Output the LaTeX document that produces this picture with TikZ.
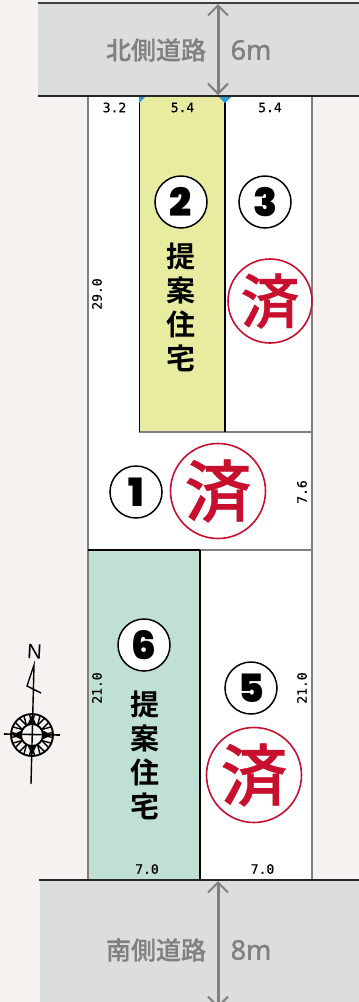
\documentclass[tikz,border=0pt]{standalone}
\usepackage{fontspec}
\setmainfont{Noto Sans CJK JP}[BoldFont={Noto Sans CJK JP Bold}]
\newfontfamily\medfont{Noto Sans CJK JP Medium}
\newfontfamily\roadfont{Noto Sans CJK JP Medium}[FakeBold=0.6]
\newfontfamily\stampfont{Noto Sans CJK JP Medium}[FakeBold=0.5]
\newfontfamily\dimfont{DejaVu Sans Mono}[FakeBold=0.4]
\newfontfamily\numfont{Poppins Black}
\newfontfamily\latfont{Noto Sans}[FakeBold=1.4]
\newfontfamily\latplain{Noto Sans}
\definecolor{pagebg}{HTML}{F5F2EF}
\definecolor{roadbg}{HTML}{DCDEDD}
\definecolor{roadtx}{HTML}{808080}
\definecolor{lotyellow}{HTML}{E8ECA0}
\definecolor{lotgreen}{HTML}{BFE0D2}
\definecolor{stamp}{HTML}{C8102E}
\definecolor{lotgray}{HTML}{808080}
\definecolor{tick}{HTML}{2E9BD6}
\usetikzlibrary{arrows.meta}
\tikzset{
 x=1pt,y=-1pt,
 dimlabel/.style={font=\dimfont\fontsize{13}{14}\selectfont,inner sep=0pt,text=black},
 roadlabel/.style={font=\roadfont\fontsize{25}{26}\selectfont,text=roadtx,inner sep=0pt},
 roadsize/.style={font=\latfont\fontsize{27}{28}\selectfont,text=roadtx,inner sep=0pt},
 lotnum/.style={circle,draw=black,line width=1.5pt,fill=white,minimum size=52pt,inner sep=0pt,font=\numfont\fontsize{39}{39}\selectfont},
 stampmark/.style={circle,draw=stamp,line width=1.6pt,fill=white,minimum size=95pt,inner sep=0pt,text=stamp,font=\stampfont\fontsize{67}{67}\selectfont},
 stampsmall/.style={stampmark,minimum size=84pt,font=\stampfont\fontsize{59}{59}\selectfont},
 proposal/.style={font=\bfseries\fontsize{29}{34}\selectfont,align=center,inner sep=0pt},
 roadarrow/.style={draw=roadtx,line width=3pt,{Straight Barb[length=10pt,width=20pt,line width=2pt]}-{Straight Barb[length=10pt,width=20pt,line width=2pt]}},
 lotedge/.style={draw=lotgray,line width=1.2pt},
 lotblack/.style={draw=black,line width=1.2pt},
 roadedge/.style={draw=black!75,line width=1.2pt},
}
\begin{document}
\begin{tikzpicture}
\useasboundingbox (0,0) rectangle (359,1002);
\fill[pagebg] (0,0) rectangle (359,1002);
% lots
\fill[white] (88,96) rectangle (312,880);
\fill[lotyellow] (139,96) rectangle (225,432);
\fill[lotgreen] (88,550) rectangle (200,880);
\draw[lotedge] (88,96) -- (88,880);
\draw[lotedge] (312,96) -- (312,880);
\draw[lotedge] (88,550) -- (312,550);
\draw[lotedge] (139,432) -- (312,432);
\draw[lotblack,line width=.9pt] (139,96) -- (139,432);
\draw[lotblack] (225,96) -- (225,432);
\draw[lotblack] (200,550) -- (200,880);
\draw[lotblack] (88,550) -- (200,550);
\fill[tick] (139,97) -- (145,97) -- (139,103) -- cycle;
\fill[tick] (225,97) -- (231,97) -- (225,103) -- cycle;
\fill[tick] (219,97) -- (225,97) -- (225,103) -- cycle;
% roads
\fill[roadbg] (38,3) rectangle (359,96);
\fill[roadbg] (40,880) rectangle (359,1002);
\draw[roadedge] (38,3) -- (359,3);
\draw[draw=black!85,line width=1.2pt] (38,96) -- (359,96);
\draw[draw=black!85,line width=1.2pt] (39,880) -- (359,880);
\coordinate (n1) at (218,4); \coordinate (n2) at (218,95);
\coordinate (s1) at (218,881); \coordinate (s2) at (218,1008);
\draw[roadarrow] (n1) -- (n2);
\draw[roadarrow] (s1) -- (s2);
\node[roadlabel] (rn) at (156,50) {北側道路};
\node[roadsize] (rnw) at (251,50) {6m};
\node[roadlabel] (rs) at (156,950) {南側道路};
\node[roadsize] (rsw) at (251,950) {8m};
% dimensions
\node[dimlabel] (d1) at (114.5,107.5) {3.2};
\node[dimlabel] (d2) at (182.5,107.5) {5.4};
\node[dimlabel] (d3) at (270,107.5) {5.4};
\node[dimlabel,rotate=90] (d4) at (97,294) {29.0};
\node[dimlabel,rotate=90] (d5) at (302,492) {7.6};
\node[dimlabel,rotate=90] (d6) at (97,688) {21.0};
\node[dimlabel,rotate=90] (d7) at (302,688) {21.0};
\node[dimlabel] (d8) at (147,869) {7.0};
\node[dimlabel] (d9) at (262.5,869) {7.0};
% lot numbers
\node[lotnum] (l2) at (181,202) {2};
\node[lotnum] (l3) at (265,202) {3};
\node[lotnum] (l1) at (136,492) {1};
\node[lotnum] (l6) at (144,645) {6};
\node[lotnum] (l5) at (251,688) {5};
\node[proposal] (p2) at (181,307) {提\\案\\住\\宅};
\node[proposal] (p6) at (145,755) {提\\案\\住\\宅};
% stamps
\node[stampsmall] (s3) at (270,301) {済};
\node[stampmark] (s1m) at (218,491) {済};
\node[stampmark] (s5) at (254,775) {済};
% compass
\node[font=\latplain\fontsize{20}{20}\selectfont,inner sep=0pt,rotate=-3] (cn) at (34.5,652) {N};
\draw[line width=1.4pt,line join=miter] (31,784) -- (34,665) -- (27,686) -- (41,693);
\draw[line width=1.6pt] (4,734) -- (60,735);
\draw[line width=1.8pt] (32,735) circle (21);
\draw[line width=1.8pt] (32,735) circle (11);
\foreach \a in {0,30,...,330}{
  \draw[line width=1.4pt] (32,735) ++(\a:11) -- ++(\a+15:10.5);
  \draw[line width=1.4pt] (32,735) ++(\a:11) -- ++(\a-15:10.5);
}
\foreach \a in {0,90,180,270}{
  \fill (32,735) ++(\a:20) -- ++(\a+155:11) -- ++(\a-90:9.5) -- cycle;
}
\end{tikzpicture}
\end{document}
